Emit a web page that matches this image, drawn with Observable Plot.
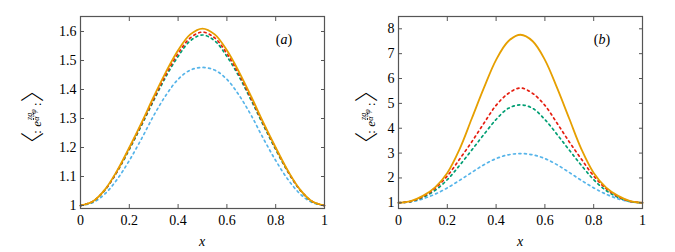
<!DOCTYPE html>
<html><head><meta charset="utf-8">
<script src="https://cdn.jsdelivr.net/npm/d3@7"></script>
<script src="https://cdn.jsdelivr.net/npm/@observablehq/plot@0.6"></script>
<style>
body{margin:0;background:#fff;}
#wrap{display:flex;width:675px;height:252px;overflow:hidden;}
#wrap svg{display:block;}
</style></head><body><div id="wrap"></div>
<script>
// sample positions along x
const xs = [0, 0.05, 0.1, 0.15, 0.2, 0.25, 0.3, 0.35, 0.4, 0.45, 0.5, 0.55, 0.6, 0.65, 0.7, 0.75, 0.8, 0.85, 0.9, 0.95, 1];

// panel (a)
const aOrange = [1, 1.014, 1.055, 1.12, 1.2, 1.285, 1.375, 1.46, 1.535, 1.59, 1.61, 1.59, 1.535, 1.46, 1.375, 1.285, 1.2, 1.12, 1.055, 1.014, 1];
const aRed    = [1, 1.014, 1.054, 1.118, 1.197, 1.281, 1.368, 1.452, 1.524, 1.578, 1.598, 1.578, 1.524, 1.452, 1.368, 1.281, 1.197, 1.118, 1.054, 1.014, 1];
const aGreen  = [1, 1.013, 1.053, 1.116, 1.193, 1.276, 1.362, 1.444, 1.514, 1.568, 1.588, 1.568, 1.514, 1.444, 1.362, 1.276, 1.193, 1.116, 1.053, 1.013, 1];
const aBlue   = [1, 1.01, 1.04, 1.09, 1.155, 1.23, 1.31, 1.38, 1.435, 1.467, 1.476, 1.467, 1.435, 1.38, 1.31, 1.23, 1.155, 1.09, 1.04, 1.01, 1];

// panel (b)
const bOrange = [1, 1.07, 1.28, 1.62, 2.2, 3.15, 4.38, 5.62, 6.75, 7.5, 7.76, 7.5, 6.75, 5.62, 4.38, 3.15, 2.2, 1.62, 1.28, 1.07, 1];
const bRed    = [1, 1.06, 1.25, 1.58, 2.08, 2.75, 3.45, 4.2, 4.92, 5.4, 5.62, 5.4, 4.92, 4.2, 3.45, 2.75, 2.08, 1.58, 1.25, 1.06, 1];
const bGreen  = [1, 1.05, 1.22, 1.5, 1.93, 2.5, 3.12, 3.75, 4.35, 4.8, 4.94, 4.8, 4.35, 3.75, 3.12, 2.5, 1.93, 1.5, 1.22, 1.05, 1];
const bBlue   = [1, 1.04, 1.16, 1.35, 1.6, 1.9, 2.22, 2.53, 2.78, 2.93, 2.98, 2.93, 2.78, 2.53, 2.22, 1.9, 1.6, 1.35, 1.16, 1.04, 1];

// ticks
const xTicks = [0, 0.2, 0.4, 0.6, 0.8, 1];
const aYTicks = [1, 1.1, 1.2, 1.3, 1.4, 1.5, 1.6];
const bYTicks = [1, 2, 3, 4, 5, 6, 7, 8];
const tags = ["a", "b"];

const FONT = "'Liberation Serif','DejaVu Serif',serif";
const fmt = d => String(+(+d).toFixed(1));
const frameCol = "#555";

function panel({series, yDomain, yTicks, width, ml, mr, tag, labelX}) {
  const mk = vals => xs.map((x, i) => ({x, y: vals[i]}));
  const lineStyles = [
    {color: "#56B4E9", dash: "2,3.5"},
    {color: "#009E73", dash: "2,3.5"},
    {color: "#E51E10", dash: "2,3.5"},
    {color: "#E69F00", dash: null}
  ];
  const lines = series.map((vals, i) => Plot.line(mk(vals), {
    x: "x", y: "y", curve: "catmull-rom",
    stroke: lineStyles[i].color,
    strokeWidth: lineStyles[i].dash ? 1.7 : 1.8,
    strokeDasharray: lineStyles[i].dash || undefined
  }));
  const svg = Plot.plot({
    width, height: 252,
    marginLeft: ml, marginRight: mr, marginTop: 16, marginBottom: 44,
    x: {domain: [0, 1]},
    y: {domain: yDomain},
    style: {fontFamily: FONT, fontSize: "14px", color: "#000", background: "#fff", overflow: "visible"},
    marks: [
      ...lines,
      Plot.frame({stroke: frameCol, strokeWidth: 1.2}),
      Plot.axisX({ticks: xTicks, tickSize: -4, tickPadding: 11, tickFormat: fmt, stroke: frameCol, fill: "#000", label: null}),
      Plot.axisX({anchor: "top", ticks: xTicks, tickSize: -4, tickFormat: () => "", stroke: frameCol, label: null}),
      Plot.axisY({ticks: yTicks, tickSize: -4, tickPadding: 8, tickFormat: fmt, stroke: frameCol, fill: "#000", label: null}),
      Plot.axisY({anchor: "right", ticks: yTicks, tickSize: -4, tickFormat: () => "", stroke: frameCol, label: null})
    ]
  });
  const s = d3.select(svg);
  s.selectAll("text").style("font-family", FONT);
  const plotL = ml, plotR = width - mr;
  // panel tag
  const tg = s.append("text").attr("x", plotR - 40).attr("y", 44)
    .attr("text-anchor", "middle").style("font-family", FONT).style("font-size", "14px");
  tg.append("tspan").text("(");
  tg.append("tspan").style("font-style", "italic").text(tag);
  tg.append("tspan").text(")");
  // x label
  s.append("text").attr("x", (plotL + plotR) / 2).attr("y", 246)
    .attr("text-anchor", "middle").style("font-family", FONT).style("font-style", "italic")
    .style("font-size", "14px").text("x");
  // y label
  const t = s.append("text")
    .attr("transform", `translate(${labelX},117) rotate(-90)`)
    .attr("text-anchor", "middle").style("font-family", FONT).attr("fill", "#000");
  const BR = "'Noto Sans CJK JP','Noto Sans CJK SC',sans-serif";
  t.append("tspan").style("font-size", "24px").style("font-family", BR).style("font-weight", "300").text("〈");
  t.append("tspan").style("font-size", "13px").attr("dx", -2).text(": ");
  t.append("tspan").style("font-size", "13px").style("font-style", "italic").text("e");
  t.append("tspan").style("font-size", "8px").style("font-style", "italic").style("text-decoration", "underline").attr("dx", 1).attr("dy", -9).text("zg");
  t.append("tspan").style("font-size", "8px").style("font-style", "italic").attr("dx", -8).attr("dy", 7).text("α");
  t.append("tspan").style("font-size", "8px").style("font-style", "italic").attr("dx", 3).attr("dy", -3).text("φ");
  t.append("tspan").style("font-size", "13px").attr("dy", 5).text(" :");
  t.append("tspan").style("font-size", "24px").style("font-family", BR).style("font-weight", "300").text("〉");
  return svg;
}

const wrap = document.getElementById("wrap");
wrap.appendChild(panel({
  series: [aBlue, aGreen, aRed, aOrange],
  yDomain: [0.9897, 1.6517], yTicks: aYTicks,
  width: 337, ml: 80, mr: 13, tag: tags[0], labelX: 41
}));
wrap.appendChild(panel({
  series: [bBlue, bGreen, bRed, bOrange],
  yDomain: [0.771, 8.495], yTicks: bYTicks,
  width: 338, ml: 61, mr: 33, tag: tags[1], labelX: 38
}));
</script>
</body></html>
